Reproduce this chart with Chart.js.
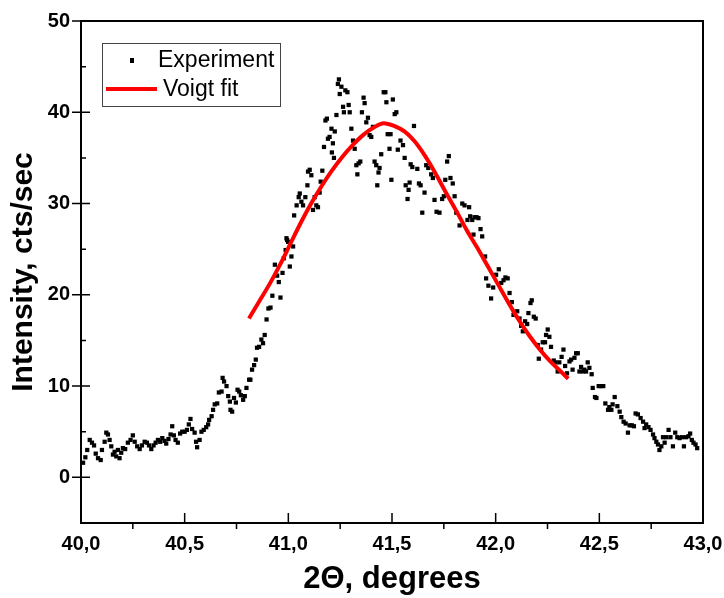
<!DOCTYPE html>
<html lang="en">
<head>
  <meta charset="UTF-8">
  <title>XRD peak - Voigt fit</title>
  <style>
    html, body {
      margin: 0;
      padding: 0;
      background: #fff;
    }
    .chart-container {
      width: 724px;
      height: 598px;
    }
  </style>
</head>
<body>
  <div class="chart-container">
    <canvas id="peakChart" width="724" height="598"></canvas>
  </div>

  <script src="https://cdn.jsdelivr.net/npm/chart.js"></script>
  <script>
    // axis ticks
    const xTicks = [40.0, 40.5, 41.0, 41.5, 42.0, 42.5, 43.0];
    const xMinorTicks = [40.25, 40.75, 41.25, 41.75, 42.25, 42.75];
    const yTicks = [0, 10, 20, 30, 40, 50];
    const yMinorTicks = [5, 15, 25, 35, 45];

    // measured points (2 theta, cts/sec)
    const expX = [
      40.010, 40.021, 40.030, 40.042, 40.053, 40.063, 40.071, 40.082, 40.095, 40.101,
      40.114, 40.122, 40.130, 40.138, 40.146, 40.154, 40.162, 40.170, 40.178, 40.186,
      40.194, 40.202, 40.213, 40.226, 40.239, 40.250, 40.259, 40.271, 40.283, 40.294,
      40.307, 40.318, 40.328, 40.339, 40.350, 40.360, 40.371, 40.382, 40.392, 40.403,
      40.411, 40.422, 40.432, 40.440, 40.448, 40.456, 40.467, 40.478, 40.488, 40.500,
      40.511, 40.520, 40.528, 40.536, 40.548, 40.555, 40.560, 40.572, 40.581, 40.592,
      40.604, 40.613, 40.618, 40.630, 40.637, 40.645, 40.657, 40.665, 40.678, 40.683,
      40.690, 40.702, 40.710, 40.718, 40.721, 40.729, 40.738, 40.747, 40.755, 40.763,
      40.771, 40.782, 40.790, 40.798, 40.811, 40.817, 40.825, 40.835, 40.843, 40.849,
      40.859, 40.870, 40.878, 40.886, 40.895, 40.904, 40.914, 40.923, 40.935, 40.946,
      40.954, 40.962, 40.972, 40.978, 40.987, 40.991, 40.994, 40.999, 41.007, 41.015,
      41.023, 41.028, 41.040, 41.050, 41.055, 41.063, 41.071, 41.082, 41.092, 41.095,
      41.103, 41.111, 41.119, 41.127, 41.135, 41.143, 41.151, 41.156, 41.164, 41.172,
      41.179, 41.186, 41.191, 41.199, 41.208, 41.210, 41.215, 41.220, 41.224, 41.232,
      41.239, 41.244, 41.248, 41.256, 41.264, 41.268, 41.275, 41.285, 41.291, 41.296,
      41.304, 41.312, 41.320, 41.328, 41.333, 41.339, 41.347, 41.355, 41.363, 41.368,
      41.376, 41.384, 41.392, 41.400, 41.408, 41.416, 41.424, 41.429, 41.435, 41.440,
      41.448, 41.460, 41.468, 41.473, 41.479, 41.488, 41.493, 41.497, 41.504, 41.513,
      41.521, 41.528, 41.541, 41.553, 41.561, 41.566, 41.575, 41.580, 41.585, 41.590,
      41.598, 41.606, 41.622, 41.630, 41.638, 41.646, 41.657, 41.665, 41.675, 41.689,
      41.697, 41.705, 41.715, 41.729, 41.742, 41.750, 41.757, 41.766, 41.774, 41.782,
      41.793, 41.802, 41.810, 41.826, 41.839, 41.850, 41.864, 41.872, 41.877, 41.887,
      41.893, 41.898, 41.908, 41.917, 41.927, 41.935, 41.949, 41.954, 41.965, 41.978,
      41.988, 42.002, 42.015, 42.027, 42.038, 42.047, 42.058, 42.067, 42.078, 42.086,
      42.104, 42.115, 42.123, 42.131, 42.142, 42.152, 42.158, 42.168, 42.174, 42.184,
      42.193, 42.203, 42.208, 42.219, 42.227, 42.238, 42.243, 42.251, 42.259, 42.267,
      42.280, 42.288, 42.299, 42.307, 42.318, 42.327, 42.335, 42.344, 42.356, 42.364,
      42.371, 42.380, 42.388, 42.396, 42.404, 42.412, 42.420, 42.428, 42.436, 42.444,
      42.452, 42.463, 42.468, 42.479, 42.486, 42.497, 42.508, 42.519, 42.529, 42.542,
      42.548, 42.558, 42.564, 42.574, 42.587, 42.598, 42.606, 42.617, 42.627, 42.638,
      42.646, 42.657, 42.667, 42.675, 42.686, 42.699, 42.711, 42.718, 42.726, 42.737,
      42.747, 42.759, 42.766, 42.775, 42.783, 42.790, 42.799, 42.807, 42.815, 42.823,
      42.834, 42.843, 42.855, 42.866, 42.876, 42.887, 42.898, 42.908, 42.918, 42.930,
      42.938, 42.946, 42.954, 42.964, 42.972
    ];
    const expY = [
      1.6, 2.2, 3.0, 4.1, 3.8, 3.5, 2.6, 2.1, 1.9, 3.0,
      3.9, 4.9, 4.7, 4.1, 3.4, 2.5, 2.8, 2.3, 3.0, 2.1,
      2.7, 3.2, 3.1, 3.8, 4.1, 4.6, 3.9, 3.4, 3.1, 3.5,
      3.9, 3.8, 3.5, 3.1, 3.5, 3.8, 4.1, 3.9, 4.3, 4.0,
      3.7, 4.2, 4.7, 5.6, 4.6, 4.1, 3.8, 4.8, 5.0, 5.0,
      5.2, 5.8, 6.4, 5.3, 4.9, 3.9, 3.3, 4.1, 5.0, 5.2,
      5.5, 5.8, 6.3, 6.7, 7.4, 8.0, 8.1, 9.3, 9.4, 10.9,
      10.5, 10.0, 8.9, 8.3, 7.4, 7.2, 8.7, 8.2, 9.6, 9.4,
      9.0, 8.5, 8.9, 9.8, 10.7, 10.7, 11.8, 12.3, 12.9, 14.2,
      14.3, 15.1, 14.7, 15.6, 17.3, 18.5, 18.6, 19.9, 23.3, 22.1,
      21.4, 19.7, 22.4, 24.0, 24.9, 26.2, 26.0, 25.8, 23.1, 24.2,
      25.3, 28.7, 29.8, 30.7, 31.1, 30.2, 29.8, 30.7, 32.0, 33.5,
      33.7, 33.1, 29.3, 30.7, 29.8, 29.6, 31.2, 32.4, 33.6, 36.2,
      39.1, 39.3, 37.1, 37.3, 38.2, 35.6, 36.6, 35.0, 37.9, 39.7,
      43.1, 43.6, 42.0, 42.8, 40.6, 40.0, 42.4, 42.2, 40.8, 40.0,
      38.2, 36.9, 36.0, 34.2, 33.2, 34.4, 34.6, 40.0, 41.6, 41.0,
      38.9, 39.4, 37.5, 37.3, 38.4, 34.6, 34.2, 32.0, 33.4, 33.9,
      35.4, 42.2, 42.2, 41.1, 37.6, 36.0, 37.6, 32.6, 41.4, 39.8,
      40.0, 35.9, 36.9, 36.4, 35.0, 32.0, 30.5, 31.5, 32.3, 34.3,
      34.0, 38.5, 33.8, 32.2, 32.0, 29.0, 31.2, 34.2, 33.9, 33.2,
      32.8, 30.4, 29.1, 29.0, 30.5, 30.8, 32.6, 34.6, 35.2, 32.8,
      32.2, 30.8, 29.0, 27.6, 30.0, 29.8, 28.2, 29.6, 28.6, 28.2,
      26.6, 28.5, 28.5, 28.4, 27.2, 26.4, 24.2, 21.8, 21.0, 19.6,
      20.8, 22.2, 22.8, 21.3, 21.6, 21.9, 21.8, 20.2, 19.2, 17.8,
      18.2, 17.4, 16.6, 16.0, 17.1, 16.8, 18.0, 19.1, 19.4, 17.6,
      17.4, 14.5, 13.0, 14.0, 14.8, 14.8, 15.6, 16.2, 15.4, 14.3,
      12.8, 12.6, 11.6, 12.6, 13.2, 14.0, 12.2, 11.4, 12.7, 12.9,
      11.8, 13.1, 13.6, 13.6, 11.6, 12.1, 11.6, 11.8, 11.6, 12.6,
      12.0, 11.3, 9.8, 8.8, 8.7, 10.0, 10.0, 10.0, 8.1, 7.4,
      7.7, 7.4, 8.0, 8.8, 7.8, 7.2, 6.6, 6.1, 5.9, 4.9,
      5.7, 5.7, 5.6, 7.0, 6.9, 6.5, 6.1, 5.4, 5.8, 5.5,
      5.2, 4.7, 4.3, 3.9, 3.6, 3.0, 3.4, 4.4, 3.8, 4.4,
      5.2, 4.4, 3.4, 4.9, 4.4, 4.3, 4.4, 3.4, 4.4, 4.5,
      4.8, 4.1, 3.8, 3.6, 3.2
    ];

    // Voigt fit curve
    const fitX = [
      40.81, 40.86, 40.91, 40.96, 41.01, 41.06, 41.11, 41.16, 41.21, 41.26,
      41.31, 41.36, 41.41, 41.46, 41.51, 41.56, 41.61, 41.66, 41.71, 41.76,
      41.81, 41.86, 41.91, 41.96, 42.01, 42.06, 42.11, 42.16, 42.21, 42.26,
      42.31, 42.35
    ];
    const fitY = [
      17.4, 19.3, 21.2, 23.3, 25.6, 27.9, 30.0, 31.9, 33.6, 35.1,
      36.4, 37.5, 38.3, 38.8, 38.5, 37.9, 36.8, 35.2, 33.3, 31.2,
      29.2, 27.1, 25.2, 23.2, 21.2, 19.2, 17.3, 15.6, 14.1, 12.8,
      11.7, 10.8
    ];

    const fontFamily = '"Liberation Sans", Arial, sans-serif';
    const decimalComma = v => v.toFixed(1).replace('.', ',');

    // box around the plot + in/out tick marks (Origin style)
    const axisFrame = {
      id: 'axisFrame',
      afterDatasetsDraw(chart) {
        const { ctx, chartArea: a, scales: { x, y } } = chart;
        ctx.save();
        ctx.strokeStyle = '#000';
        ctx.lineWidth = 2;
        ctx.strokeRect(a.left, a.top, a.right - a.left, a.bottom - a.top);

        ctx.lineWidth = 1.5;
        ctx.beginPath();
        xTicks.forEach(v => {
          const p = x.getPixelForValue(v);
          ctx.moveTo(p, a.bottom);
          ctx.lineTo(p, a.bottom - 10);
        });
        xMinorTicks.forEach(v => {
          const p = x.getPixelForValue(v);
          ctx.moveTo(p, a.bottom);
          ctx.lineTo(p, a.bottom + 6);
        });
        yTicks.forEach(v => {
          const p = y.getPixelForValue(v);
          ctx.moveTo(a.left - 9, p);
          ctx.lineTo(a.left + 9, p);
        });
        yMinorTicks.forEach(v => {
          const p = y.getPixelForValue(v);
          ctx.moveTo(a.left, p);
          ctx.lineTo(a.left + 5, p);
        });
        ctx.stroke();
        ctx.restore();
      }
    };

    // legend drawn as a framed box in the top-left corner
    const legendBox = {
      id: 'legendBox',
      afterDraw(chart) {
        const ctx = chart.ctx;
        const [fit, exp] = chart.data.datasets;
        ctx.save();
        ctx.strokeStyle = '#444';
        ctx.lineWidth = 1;
        ctx.strokeRect(102.5, 43.5, 178, 63);

        ctx.fillStyle = exp.backgroundColor;
        ctx.fillRect(130, 58, 4, 5);

        ctx.strokeStyle = fit.borderColor;
        ctx.lineWidth = 4;
        ctx.beginPath();
        ctx.moveTo(106, 89);
        ctx.lineTo(157, 89);
        ctx.stroke();

        ctx.fillStyle = '#000';
        ctx.font = '23px ' + fontFamily;
        ctx.textBaseline = 'middle';
        ctx.fillText(exp.label, 158, 61);
        ctx.fillText(fit.label, 163, 90);
        ctx.restore();
      }
    };

    const ctx = document.getElementById('peakChart').getContext('2d');
    new Chart(ctx, {
      type: 'scatter',
      data: {
        datasets: [
          {
            label: 'Voigt fit',
            data: fitX.map((x, i) => ({ x: x, y: fitY[i] })),
            showLine: true,
            borderColor: '#ff0000',
            borderWidth: 4,
            pointRadius: 0,
            cubicInterpolationMode: 'monotone',
            order: 0
          },
          {
            label: 'Experiment',
            data: expX.map((x, i) => ({ x: x, y: expY[i] })),
            pointStyle: 'rect',
            pointRadius: 3,
            borderWidth: 0,
            backgroundColor: '#000',
            borderColor: '#000',
            order: 1
          }
        ]
      },
      options: {
        responsive: false,
        animation: false,
        layout: { padding: { top: 21, right: 21, left: 0, bottom: 0 } },
        plugins: {
          legend: { display: false },
          tooltip: { enabled: false }
        },
        scales: {
          x: {
            type: 'linear',
            min: 40,
            max: 43,
            afterBuildTicks: s => { s.ticks = xTicks.map(v => ({ value: v })); },
            afterFit: s => {
              s.height = 75;
              s.paddingLeft = 0;
              s.paddingRight = 0;
            },
            grid: { display: false, drawTicks: false },
            border: { display: false },
            ticks: {
              color: '#000',
              padding: 9,
              maxRotation: 0,
              autoSkip: false,
              font: { family: fontFamily, size: 20, weight: 'bold' },
              callback: v => decimalComma(v)
            },
            title: {
              display: true,
              text: '2\u0398, degrees',
              color: '#000',
              padding: { top: 0, bottom: 0 },
              font: { family: fontFamily, size: 31, weight: 'bold' }
            }
          },
          y: {
            type: 'linear',
            min: -5,
            max: 50,
            afterBuildTicks: s => { s.ticks = yTicks.map(v => ({ value: v })); },
            afterFit: s => {
              s.width = 81;
              s.paddingTop = 0;
              s.paddingBottom = 0;
            },
            grid: { display: false, drawTicks: false },
            border: { display: false },
            ticks: {
              color: '#000',
              padding: 11,
              font: { family: fontFamily, size: 20, weight: 'bold' }
            },
            title: {
              display: true,
              text: 'Intensity, cts/sec',
              color: '#000',
              padding: { top: 6, bottom: 0 },
              font: { family: fontFamily, size: 30, weight: 'bold' }
            }
          }
        }
      },
      plugins: [axisFrame, legendBox]
    });
  </script>
</body>
</html>
